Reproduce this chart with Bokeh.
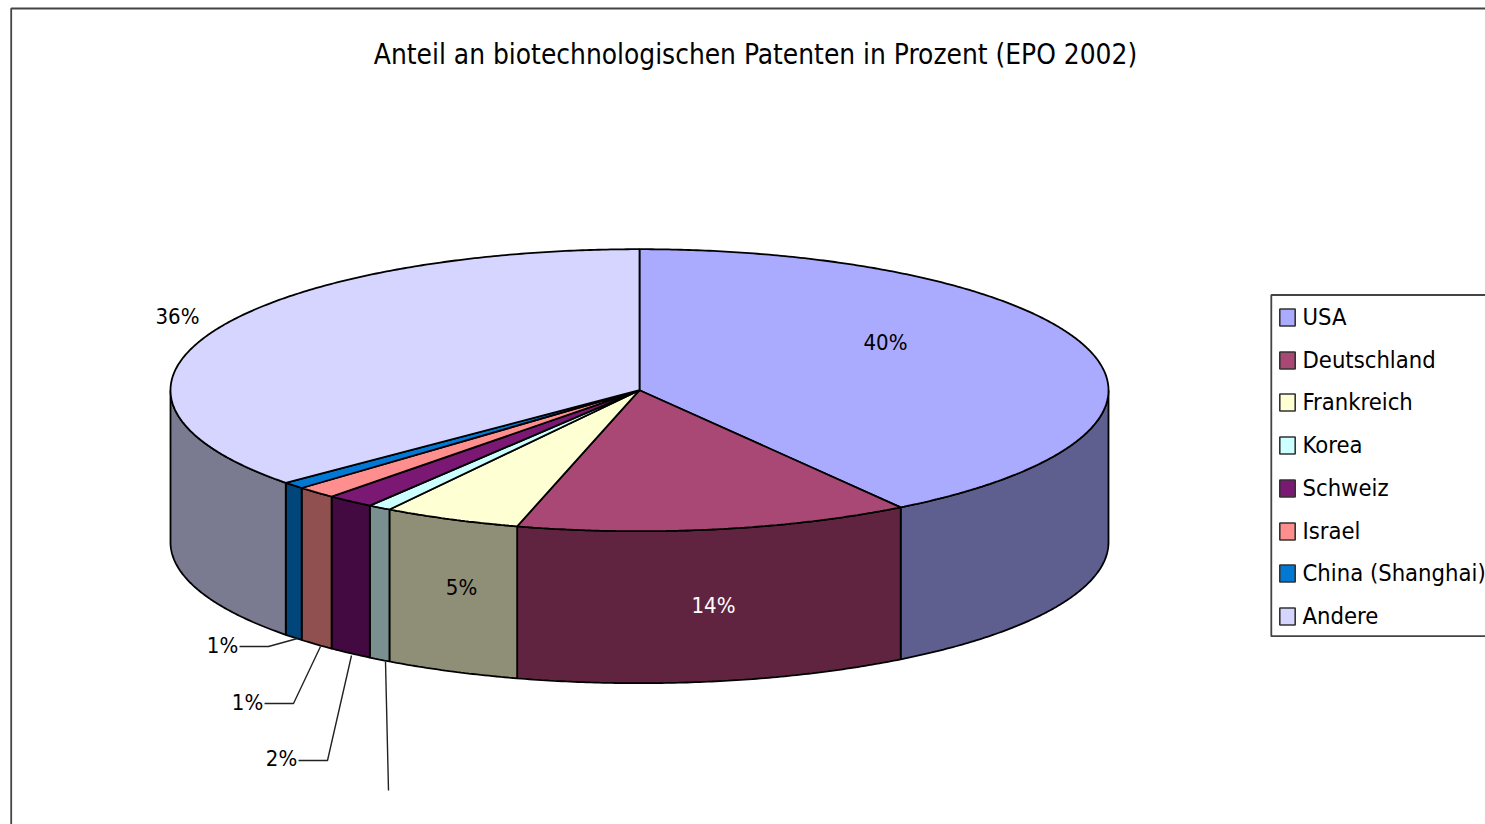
import numpy as np
from bokeh.plotting import figure
from bokeh.models import Range1d, ColumnDataSource
from bokeh.core.properties import value
from bokeh.embed import file_html
from bokeh.resources import INLINE

categories = ["USA", "Deutschland", "Frankreich", "Korea", "Schweiz", "Israel", "China (Shanghai)", "Andere"]
shares = [40.6, 13.6, 4.75, 0.8, 1.65, 1.4, 0.8, 36.4]
labels = ["40%", "14%", "5%", "1%", "2%", "1%", "1%", "36%"]
top_colors = ["#AAAAFF", "#A94875", "#FFFFD4", "#CCFFFF", "#7B1874", "#FF8F8F", "#0078D4", "#D5D5FF"]
side_colors = ["#5F5F8F", "#602440", "#8F8F77", "#7A9090", "#420A40", "#905050", "#00467A", "#7A7A90"]

FONT = value("DejaVu Sans Condensed")
CX, CY, RX, RY, DEPTH = 639.0, 389.7, 469.0, 141.0, 152.0
W, H = 1485, 824

p = figure(width=W, height=H, x_range=Range1d(0, W), y_range=Range1d(H, 0),
           output_backend="svg", toolbar_location=None, min_border=0, outline_line_color=None)
p.axis.visible = False
p.grid.visible = False


def arc(a, b):
    t = np.radians(np.linspace(a, b, max(3, int(abs(b - a) * 2))))
    return CX + RX * np.sin(t), CY - RY * np.cos(t)


edges = np.concatenate([[0], np.cumsum(shares)]) * 3.6
edges[-1] = 360.0

# side walls
wx, wy, wc = [], [], []
for i in range(len(shares)):
    a, b = max(edges[i], 90.0), min(edges[i + 1], 270.0)
    if a >= b:
        continue
    ax, ay = arc(a, b)
    wx.append(np.concatenate([ax, ax[::-1]]))
    wy.append(np.concatenate([ay, ay[::-1] + DEPTH]))
    wc.append(side_colors[i])
p.patches(wx, wy, fill_color=wc, line_color="#000000", line_width=1.8)

# top faces
tx, ty = [], []
for i in range(len(shares)):
    ax, ay = arc(edges[i], edges[i + 1])
    tx.append(np.concatenate([[CX], ax]))
    ty.append(np.concatenate([[CY], ay]))
p.patches(tx, ty, fill_color=top_colors, line_color="#000000", line_width=1.8)

# leader lines
p.multi_line([[239, 268, 297], [264, 293, 320], [298, 327, 351], [385, 388]],
             [[646, 646, 638], [703, 703, 646], [760, 760, 655], [661, 790]],
             line_color="#222222", line_width=1.4)

# data labels
lab = ColumnDataSource(dict(
    x=[885, 713, 461, 281, 247, 222, 177],
    y=[342, 605, 587, 758, 702, 645, 316],
    t=[labels[0], labels[1], labels[2], labels[4], labels[5], labels[6], labels[7]],
    c=["#000000", "#FFFFFF", "#000000", "#000000", "#000000", "#000000", "#000000"]))
p.text("x", "y", text="t", source=lab, text_color="c", text_font=FONT, text_font_size="22px",
       text_align="center", text_baseline="middle")

# title
p.text([755], [54], text=["Anteil an biotechnologischen Patenten in Prozent (EPO 2002)"], text_font=FONT,
       text_font_size="27.8px", text_align="center", text_baseline="middle", text_color="#000000")

# legend
p.multi_line([[1485, 1270.8, 1270.8, 1485]], [[294.5, 294.5, 635.7, 635.7]], line_color="#444444", line_width=1.8)
rows = [317, 360, 402, 445, 488, 531, 573, 616]
p.quad(left=[1279.3] * 8, right=[1294.7] * 8, top=[r - 8.5 for r in rows], bottom=[r + 8.5 for r in rows],
       fill_color=top_colors, line_color="#333333", line_width=1.6)
p.text([1302] * 8, [r - 1 for r in rows], text=categories, text_font=FONT, text_font_size="23.6px",
       text_align="left", text_baseline="middle", text_color="#000000")

# chart frame
p.multi_line([[10.7, 10.7, 1485]], [[824, 8, 8]], line_color="#444444", line_width=1.8)

open("out.html", "w").write(file_html(p, INLINE))
